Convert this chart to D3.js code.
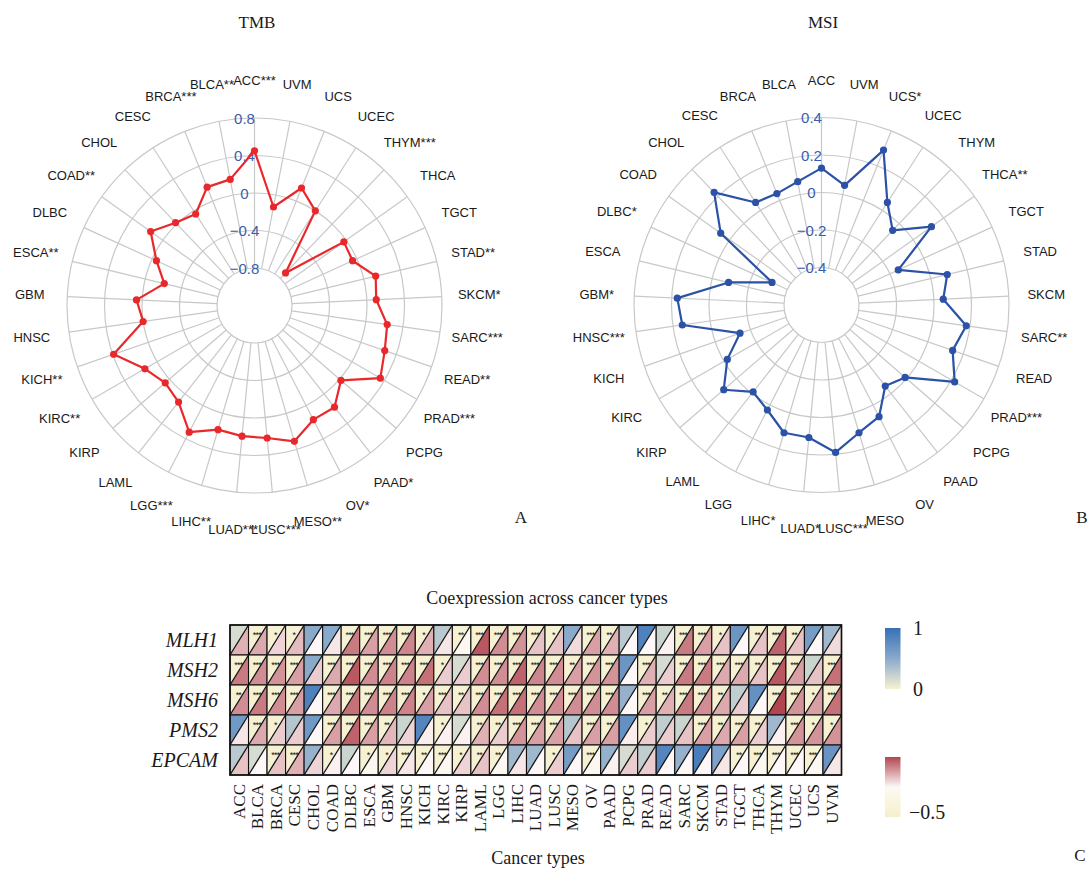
<!DOCTYPE html>
<html><head><meta charset="utf-8">
<script src="https://cdn.jsdelivr.net/npm/d3@7"></script>
<style>body{margin:0;background:#fff}svg{display:block}</style>
</head><body>
<svg id="chart" width="1090" height="870"></svg>
<script>
const categories = ["ACC","BLCA","BRCA","CESC","CHOL","COAD","DLBC","ESCA","GBM","HNSC","KICH","KIRC","KIRP","LAML","LGG","LIHC","LUAD","LUSC","MESO","OV","PAAD","PCPG","PRAD","READ","SARC","SKCM","STAD","TGCT","THCA","THYM","UCEC","UCS","UVM"];
const tmbValues = [0.45,0.17,0.16,-0.04,0.02,0.16,-0.05,-0.21,0.06,0.0,0.39,0.15,0.06,0.11,0.32,0.18,0.2,0.22,0.31,0.17,0.18,0.02,0.35,0.27,0.23,0.1,0.13,-0.05,-0.03,-0.72,0.0,0.15,-0.13];
const tmbStars = ["***","**","***","","","**","","**","","","**","**","","","***","**","***","***","**","*","*","","***","**","***","*","**","","","***","","",""];
const msiValues = [0.13,0.07,0.04,0.05,0.23,0.06,-0.31,-0.09,0.17,0.15,-0.14,-0.02,0.09,-0.01,0.03,0.11,0.11,0.19,0.11,0.07,-0.05,-0.01,0.22,0.14,0.18,0.05,0.09,-0.15,0.12,-0.05,0.05,0.29,0.05];
const msiStars = ["","","","","","","*","","*","***","","","","","","*","*","***","","","","","***","","**","","","","**","","","*",""];
const tmbTicks = [0.8,0.4,0,-0.4,-0.8];
const msiTicks = [0.4,0.2,0,-0.2,-0.4];
const genes = ["MLH1","MSH2","MSH6","PMS2","EPCAM"];
const upperValues = [
 [0.15,0,0,0,0.5,0.5,0,0,0,0,0,0.28,0,0,0,0,0,0,0.5,0,0,0.28,0.85,0.2,0,0,0,0.68,0,0,0,0.62,0.4],
 [0,0,0,0,0.5,0,0,0,0,0,0,0,0.15,0,0,0,0,0,0,0,0,0.68,0,0.15,0,0,0,0,0,0,0,0.2,0],
 [0,0,0,0,0.85,0,0,0,0,0,0,0,0,0,0,0,0,0,0,0,0,0.45,0,0,0,0,0,0.25,0.72,0,0,0,0],
 [0.65,0,0,0.3,0.65,0,0,0,0,0.2,0.82,0,0.15,0,0,0,0,0,0.3,0,0,0.72,0,0.25,0.2,0,0,0,0,0.4,0,0,0],
 [0.28,0.15,0,0,0.45,0,0.2,0,0,0,0,0,0,0,0,0.4,0.4,0,0.62,0,0.45,0.15,0.25,0.82,0.45,0.88,0.58,0,0,0,0,0,0.7]
];
const lowerValues = [
 [0.2,0.22,0.1,0.17,0,0.05,0.35,0.25,0.3,0.32,0.2,0.05,-0.05,0.45,0.3,0.28,0.15,0.15,0.08,0.25,0.2,0,0,0.02,0.35,0.25,0.15,0,0.15,0.42,0.15,0,0.08],
 [0.35,0.3,0.28,0.25,0.12,0.22,0.45,0.3,0.33,0.33,0.38,0.12,0.12,0.3,0.3,0.42,0.32,0.3,0.25,0.28,0.28,0,0.2,0.12,0.35,0.35,0.22,0.22,0.15,0.45,0.25,0.15,0.38],
 [0.3,0.35,0.3,0.25,0,0.22,0.38,0.3,0.33,0.33,0.25,0.15,0.15,0.3,0.38,0.38,0.3,0.3,0.3,0.3,0.3,0,0.25,0.2,0.35,0.3,0.22,0.12,0,0.5,0.28,0.25,0.38],
 [0.05,0.22,0.12,0.12,0,0.25,0.42,0.25,0.18,0.1,0.03,0.02,0.02,0.2,0.12,0.28,0.25,0.25,0.15,0.25,0.25,0.03,0.12,0.12,0.15,0.25,0.22,0.25,0.12,0.02,0.28,0.28,0.28],
 [0.15,0,0.15,0.2,0.1,0.02,0,-0.05,0.1,0.05,0,-0.05,0.1,0.15,-0.05,0.05,0,0.12,0,-0.05,0.02,0.12,0.12,0,0,0,0.05,0,-0.05,0,0,-0.05,0.05]
];
const cellStars = [
 [0,3,1,1,0,0,3,3,3,3,1,0,2,3,3,3,3,1,0,3,2,0,0,0,3,3,1,0,2,3,2,0,0],
 [3,3,3,3,0,3,3,3,3,3,3,1,0,3,3,3,3,3,2,3,3,0,3,0,3,3,3,3,2,3,3,0,3],
 [2,3,3,3,0,3,3,3,3,3,1,3,2,3,3,3,3,3,3,3,3,0,3,2,3,3,2,0,0,3,3,1,3],
 [0,3,1,0,0,3,3,3,2,0,0,1,0,2,2,3,3,3,0,3,2,0,1,0,0,3,2,3,2,0,3,1,1],
 [0,0,3,3,0,1,0,1,1,3,2,3,1,2,2,0,0,1,0,3,0,0,0,0,0,0,0,2,3,3,3,3,0]
];
const upperLegendTicks = [1, 0];
const lowerLegendTicks = [-0.5];

const svg = d3.select("#chart");
const sans = "'Liberation Sans', Arial, sans-serif";
const serif = "'Liberation Serif', 'Times New Roman', serif";

function radar(cx, cy, values, stars, ticks, lineColor) {
  const g = svg.append("g").attr("transform", `translate(${cx},${cy})`);
  const lo = d3.min(ticks), hi = d3.max(ticks);
  const r = d3.scaleLinear().domain([lo, hi]).range([37.5, 187.5]);
  const a = d3.scaleLinear().domain([0, categories.length]).range([0, -2 * Math.PI]);
  const grid = g.append("g").attr("stroke", "#c8c8c8").attr("stroke-width", 1.2).attr("fill", "none");
  ticks.forEach(t => grid.append("circle").attr("r", r(t)));
  categories.forEach((c, i) => {
    const ang = a(i);
    grid.append("line")
      .attr("x1", r(lo) * Math.sin(ang)).attr("y1", -r(lo) * Math.cos(ang))
      .attr("x2", r(hi) * Math.sin(ang)).attr("y2", -r(hi) * Math.cos(ang));
  });
  g.append("g").selectAll("text").data(ticks).join("text")
    .attr("x", -10).attr("y", d => -r(d))
    .attr("text-anchor", "middle").attr("dominant-baseline", "central")
    .attr("font-family", sans).attr("font-size", 15).attr("fill", "#3b5cae")
    .text(d => d3.format(".1~f")(d).replace("-", "\u2212"));
  const labR = 225;
  g.append("g").selectAll("text").data(categories).join("text")
    .attr("x", (d, i) => labR * Math.sin(a(i)))
    .attr("y", (d, i) => -labR * Math.cos(a(i)))
    .attr("text-anchor", "middle").attr("dominant-baseline", "central")
    .attr("font-family", sans).attr("font-size", 13).attr("fill", "#1a1a1a")
    .text((d, i) => d + stars[i]);
  const line = d3.lineRadial().angle((d, i) => a(i)).radius(d => r(d)).curve(d3.curveLinearClosed);
  g.append("path").attr("d", line(values)).attr("fill", "none")
    .attr("stroke", lineColor).attr("stroke-width", 2.2).attr("stroke-linejoin", "round");
  g.append("g").selectAll("circle").data(values).join("circle")
    .attr("cx", (d, i) => r(d) * Math.sin(a(i)))
    .attr("cy", (d, i) => -r(d) * Math.cos(a(i)))
    .attr("r", 3.6).attr("fill", lineColor);
}

radar(254.5, 305.5, tmbValues, tmbStars, tmbTicks, "#e8282b");
radar(821.5, 305, msiValues, msiStars, msiTicks, "#2b52a6");

const textSerif = (x, y, s, size, anchor) => svg.append("text").attr("x", x).attr("y", y)
  .attr("font-family", serif).attr("font-size", size).attr("fill", "#1a1a1a")
  .attr("text-anchor", anchor || "middle").attr("dominant-baseline", "central").text(s);

textSerif(257, 22, "TMB", 17);
textSerif(823, 22, "MSI", 17);
textSerif(521, 517, "A", 17);
textSerif(1082, 517, "B", 17);
textSerif(1080, 855, "C", 17);

// Heatmap
const x = d3.scaleBand().domain(categories).range([230, 841.5]);
const y = d3.scaleBand().domain(genes).range([625, 775]);
const upperColor = d3.scaleLinear().domain([0, 0.5, 1]).range(["#f7f1d3", "#8aaacb", "#3670b6"]).clamp(true);
const lowerColor = d3.scaleLinear().domain([-0.5, -0.1, 0, 0.5]).range(["#f5eecd", "#fbf8ea", "#fdf8f7", "#b24650"]).clamp(true);

const cells = [];
genes.forEach((gname, gi) => categories.forEach((c, ci) => cells.push({
  gene: gname, cat: c, up: upperValues[gi][ci], low: lowerValues[gi][ci], st: cellStars[gi][ci]
})));

const hm = svg.append("g");
const cg = hm.selectAll("g.cell").data(cells).join("g").attr("class", "cell");
cg.append("path").attr("d", d => {
  const x0 = x(d.cat), x1 = x0 + x.bandwidth(), y0 = y(d.gene), y1 = y0 + y.bandwidth();
  return `M${x0},${y0}L${x1},${y0}L${x0},${y1}Z`;
}).attr("fill", d => upperColor(d.up));
cg.append("path").attr("d", d => {
  const x0 = x(d.cat), x1 = x0 + x.bandwidth(), y0 = y(d.gene), y1 = y0 + y.bandwidth();
  return `M${x1},${y0}L${x1},${y1}L${x0},${y1}Z`;
}).attr("fill", d => lowerColor(d.low));
cg.append("rect")
  .attr("x", d => x(d.cat)).attr("y", d => y(d.gene))
  .attr("width", x.bandwidth()).attr("height", y.bandwidth())
  .attr("fill", "none").attr("stroke", "#111").attr("stroke-width", 1.1);
cg.append("line")
  .attr("x1", d => x(d.cat)).attr("y1", d => y(d.gene) + y.bandwidth())
  .attr("x2", d => x(d.cat) + x.bandwidth()).attr("y2", d => y(d.gene))
  .attr("stroke", "#111").attr("stroke-width", 1.3);
cg.filter(d => d.st > 0).append("text")
  .attr("x", d => x(d.cat) + x.bandwidth() * 0.45).attr("y", d => y(d.gene) + 13)
  .attr("text-anchor", "middle").attr("font-family", sans).attr("font-size", 9)
  .attr("letter-spacing", -0.8).attr("fill", "#111")
  .text(d => "*".repeat(d.st));
hm.append("rect").attr("x", 230).attr("y", 625).attr("width", 611.5).attr("height", 150)
  .attr("fill", "none").attr("stroke", "#111").attr("stroke-width", 1.6);

// Row labels
hm.append("g").selectAll("text").data(genes).join("text")
  .attr("x", 218).attr("y", d => y(d) + y.bandwidth() / 2)
  .attr("text-anchor", "end").attr("dominant-baseline", "central")
  .attr("font-family", serif).attr("font-style", "italic").attr("font-size", 20).attr("fill", "#1a1a1a")
  .text(d => d);

// X axis
const xAxis = svg.append("g").attr("transform", "translate(0,775)")
  .call(d3.axisBottom(x).tickSize(0));
xAxis.select(".domain").remove();
xAxis.selectAll("text")
  .attr("transform", "rotate(-90)").attr("x", -9).attr("y", 0).attr("dy", "0.33em")
  .style("text-anchor", "end").attr("font-family", serif).attr("font-size", 17).attr("fill", "#1a1a1a");

textSerif(547, 598, "Coexpression across cancer types", 18);
textSerif(538, 858, "Cancer types", 18);

// Legends
const defs = svg.append("defs");
const g1 = defs.append("linearGradient").attr("id", "gUp").attr("x1", 0).attr("y1", 1).attr("x2", 0).attr("y2", 0);
d3.range(0, 1.001, 0.1).forEach(t => g1.append("stop").attr("offset", t).attr("stop-color", upperColor(t)));
const g2 = defs.append("linearGradient").attr("id", "gLow").attr("x1", 0).attr("y1", 1).attr("x2", 0).attr("y2", 0);
d3.range(0, 1.001, 0.05).forEach(t => g2.append("stop").attr("offset", t).attr("stop-color", lowerColor(-0.5 + t)));

const upLeg = d3.scaleLinear().domain([0, 1]).range([689, 628]);
svg.append("rect").attr("x", 885).attr("y", 628).attr("width", 15.5).attr("height", 61).attr("fill", "url(#gUp)");
upperLegendTicks.forEach(t => textSerif(913, upLeg(t), String(t), 20, "start"));
const lowLeg = d3.scaleLinear().domain([-0.5, 0.5]).range([817, 757]);
svg.append("rect").attr("x", 885).attr("y", 757).attr("width", 15.5).attr("height", 60).attr("fill", "url(#gLow)");
lowerLegendTicks.forEach(t => textSerif(909, lowLeg(t) - 5, String(t).replace("-", "\u2212"), 20, "start"));
</script>
</body></html>
